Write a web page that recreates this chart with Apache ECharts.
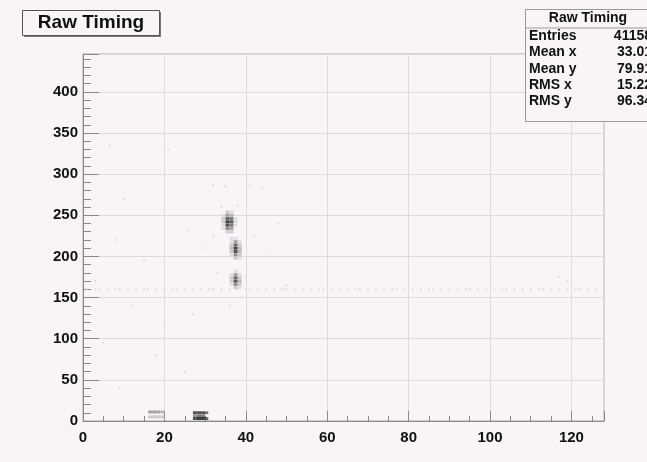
<!DOCTYPE html>
<html>
<head>
<meta charset="utf-8">
<script src="https://cdn.jsdelivr.net/npm/echarts@6/dist/echarts.min.js"></script>
<style>
  html, body { margin: 0; padding: 0; background: #f8f4f8; }
  #main { width: 647px; height: 462px; }
</style>
</head>
<body>
<div id="main"></div>
<script>
// 2D histogram bins: [x, y, count]
const peakHigh = [
  [35.5,254,2],[36.5,254,1],
  [34.5,250,1],[35.5,250,4],[36.5,250,3],
  [34.5,246,2],[35.5,246,7],[36.5,246,6],[37.5,246,1],
  [34.5,242,2],[35.5,242,9],[36.5,242,8],[37.5,242,1],
  [34.5,238,1],[35.5,238,8],[36.5,238,6],[37.5,238,1],
  [34.5,234,1],[35.5,234,5],[36.5,234,4],
  [35.5,230,2],[36.5,230,2]
];
const peakMid = [
  [36.5,222,1],[37.5,222,1],
  [36.5,218,1],[37.5,218,4],[38.5,218,1],
  [36.5,214,2],[37.5,214,7],[38.5,214,2],
  [36.5,210,3],[37.5,210,9],[38.5,210,3],
  [36.5,206,2],[37.5,206,8],[38.5,206,3],
  [36.5,202,1],[37.5,202,5],[38.5,202,2],
  [37.5,198,2],[38.5,198,1]
];
const peakLow = [
  [37.5,182,1],
  [36.5,178,1],[37.5,178,4],[38.5,178,1],
  [36.5,174,2],[37.5,174,7],[38.5,174,2],
  [36.5,170,2],[37.5,170,8],[38.5,170,3],
  [36.5,166,1],[37.5,166,5],[38.5,166,2],
  [37.5,162,2],[38.5,162,1]
];
const bottomBins = [
  [16.5,11,4],[17.5,11,4],[18.5,11,4],[19.5,11,3],
  [16.5,5,2],[17.5,5,2],[18.5,5,2],[19.5,5,2],
  [27.5,10,8],[28.5,10,8],[29.5,10,8],[30.3,10,6],
  [27.5,6,5],[28.5,6,6],[29.5,6,6],
  [27.5,3,8],[28.5,3,9],[29.5,3,9],[30.3,3,7]
];
const bandY = 160;
const bandX = [1,3,4,6,8,9,11,13,15,16,18,20,22,23,25,27,29,31,32,34,36,38,40,41,43,45,47,49,50,52,54,56,58,59,61,63,65,67,68,70,72,74,76,77,79,81,83,85,86,88,90,92,94,95,97,99,101,103,104,106,108,110,112,113,115,117,119,121,122,124,126];
const noise = [
  [6.5,335,1],[21,330,1],[32,287,1],[35,285,1],[41,286,1],[44,284,1],
  [4,300,1],[10,270,1],[13,250,1],[8,220,1],[15,195,1],[26,230,1],
  [30,210,1],[42,225,1],[45,200,1],[33,180,1],[40,175,1],[12,140,1],
  [20,120,1],[27,130,1],[5,95,1],[18,80,1],[25,60,1],[9,40,1],
  [117,175,1],[119,170,1],[50,165,1],[48,240,1],[3,170,1],[34,260,1],
  [38,262,1],[32,225,1],[39,150,1],[36,140,1]
];

const statsTitle = 'Raw Timing';
const statsNames = ['Entries', 'Mean x', 'Mean y', 'RMS x', 'RMS y'];
const statsValues = ['41158', '33.01', '79.91', '15.22', '96.34'];

const bandData = bandX.map(x => [x, bandY, 1]);
const denseBins = [].concat(peakHigh, peakMid, peakLow, bottomBins);
const faintBins = [].concat(noise, bandData);

const chart = echarts.init(document.getElementById('main'));
const font = '"Liberation Sans", Arial, sans-serif';

const statGraphics = [
  { type: 'rect', left: 525, top: 9, shape: { width: 130, height: 112 },
    style: { fill: '#f8f4f8', stroke: '#999', lineWidth: 1 }, z: 100 },
  { type: 'line', shape: { x1: 525, y1: 28, x2: 647, y2: 28 },
    style: { stroke: '#999', lineWidth: 1 }, z: 101 },
  { type: 'text', x: 588, y: 18, z: 102,
    style: { text: statsTitle, font: 'bold 14px ' + font, fill: '#111', align: 'center', verticalAlign: 'middle' } }
];
statsNames.forEach((n, i) => {
  statGraphics.push({ type: 'text', x: 529, y: 36 + i * 16.4, z: 102,
    style: { text: n, font: 'bold 14px ' + font, fill: '#111', align: 'left', verticalAlign: 'middle' } });
  statGraphics.push({ type: 'text', x: 652, y: 36 + i * 16.4, z: 102,
    style: { text: statsValues[i], font: 'bold 14px ' + font, fill: '#111', align: 'right', verticalAlign: 'middle' } });
});

const option = {
  backgroundColor: '#f8f4f8',
  animation: false,
  grid: { left: 83, right: 43, top: 54, bottom: 41, show: true, borderColor: '#aaa', borderWidth: 1 },
  xAxis: {
    type: 'value', min: 0, max: 128, interval: 20,
    axisLine: { show: true, lineStyle: { color: '#888' } },
    axisTick: { show: true, inside: true, length: 10, lineStyle: { color: '#888' } },
    minorTick: { show: true, splitNumber: 4, length: 5, lineStyle: { color: '#888' } },
    splitLine: { show: true, lineStyle: { color: '#dcdcdc' } },
    axisLabel: { showMaxLabel: false, margin: 9, color: '#111', fontWeight: 'bold', fontSize: 15, fontFamily: font }
  },
  yAxis: {
    type: 'value', min: 0, max: 446, interval: 50,
    axisLine: { show: true, lineStyle: { color: '#888' } },
    axisTick: { show: true, inside: true, length: 16, lineStyle: { color: '#888' } },
    minorTick: { show: true, splitNumber: 5, length: 8, lineStyle: { color: '#888' } },
    splitLine: { show: true, lineStyle: { color: '#dcdcdc' } },
    axisLabel: { showMaxLabel: false, margin: 5, color: '#111', fontWeight: 'bold', fontSize: 15, fontFamily: font }
  },
  visualMap: {
    show: false, type: 'continuous', dimension: 2, min: 1, max: 9,
    inRange: { color: ['#dcd7dd', '#111111'] }
  },
  series: [{
    type: 'scatter',
    symbol: 'rect',
    symbolSize: [4, 3],
    data: denseBins
  }, {
    type: 'scatter',
    symbol: 'rect',
    symbolSize: [2, 2],
    data: faintBins
  }],
  graphic: [
    { type: 'rect', left: 24, top: 12, shape: { width: 137, height: 25 },
      style: { fill: '#777' }, z: 99 },
    { type: 'rect', left: 22, top: 10, shape: { width: 137, height: 25 },
      style: { fill: '#f8f4f8', stroke: '#555', lineWidth: 1 }, z: 100 },
    { type: 'text', x: 91, y: 23, z: 101,
      style: { text: 'Raw Timing', font: 'bold 19px ' + font, fill: '#111', align: 'center', verticalAlign: 'middle' } }
  ].concat(statGraphics)
};
chart.setOption(option);
</script>
</body>
</html>
